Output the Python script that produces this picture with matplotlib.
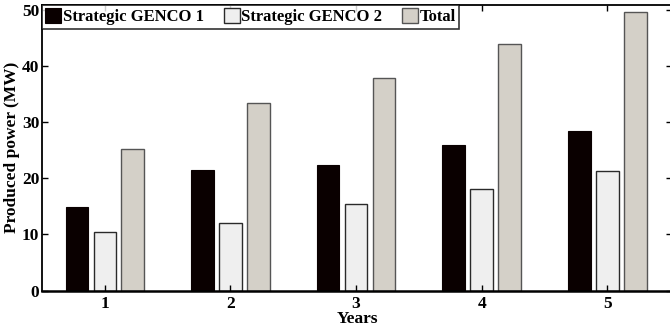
import numpy as np
import matplotlib
matplotlib.use('Agg')
import matplotlib.pyplot as plt

# Datos
years = [1, 2, 3, 4, 5]
genco1 = [14.9, 21.5, 22.4, 26.0, 28.4]
genco2 = [10.4, 12.0, 15.4, 18.1, 21.3]
total = [25.2, 33.5, 37.8, 44.0, 49.7]
series_labels = ['Strategic GENCO 1', 'Strategic GENCO 2', 'Total']

plt.rcParams['font.family'] = ['Liberation Serif', 'DejaVu Serif']
plt.rcParams['font.weight'] = 'bold'

fig = plt.figure(figsize=(6.7, 3.29), dpi=100)
ax = fig.add_axes([0.0627, 0.117, 0.9403, 0.868])

x = np.array(years)
w = 0.18
off = 0.222
ax.bar(x - off, genco1, w, color='#0a0000', edgecolor='#0a0000', linewidth=0.8, label=series_labels[0])
ax.bar(x, genco2, w, color='#efefef', edgecolor='#2a2a2a', linewidth=1.0, label=series_labels[1])
ax.bar(x + off, total, w, color='#d4d0c8', edgecolor='#555555', linewidth=1.0, label=series_labels[2])

ax.set_xlim(0.5, 5.515)
ax.set_ylim(0, 50.9)
ax.set_xticks(years)
ax.set_yticks([0, 10, 20, 30, 40, 50])
ax.tick_params(direction='in', top=True, right=True, length=4, width=1, labelsize=12.5, pad=2)
ax.tick_params(axis='x', pad=4)
for lab in ax.get_xticklabels() + ax.get_yticklabels():
    lab.set_fontweight('bold')
for s in ax.spines.values():
    s.set_linewidth(1.3)
ax.spines['bottom'].set_linewidth(1.8)

ax.set_xlabel('Years', fontsize=12.5, fontweight='bold', labelpad=-1)
ax.set_ylabel('Produced power (MW)', fontsize=12.5, fontweight='bold', labelpad=1)

leg = ax.legend(loc='upper left', ncol=3, bbox_to_anchor=(0.0, 1.0), borderaxespad=0,
                frameon=True, fancybox=False, edgecolor='black', handlelength=0.95,
                handleheight=1.0, handletextpad=0.1, columnspacing=1.2, borderpad=0.2,
                prop={'weight': 'bold', 'size': 12})
leg.get_frame().set_linewidth(1.2)

fig.savefig('out.png', dpi=100)
